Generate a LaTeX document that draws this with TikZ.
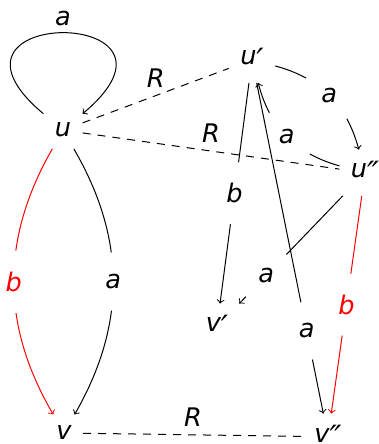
\documentclass[tikz,border=0pt]{standalone}
\usepackage{fontspec}
\setmainfont{DejaVu Sans}
\newfontfamily\lblfont{DejaVu Sans Oblique}
\newcommand\pr[1]{\raisebox{-3.2pt}{\fontsize{16}{16}\selectfont #1}}
\begin{document}
\begin{tikzpicture}[x=0.5pt,y=0.5pt,
  font=\lblfont\fontsize{12.8}{15}\selectfont,
  line width=0.5pt, >=to,
  st/.style={inner sep=5.5pt},
  lb/.style={circle, fill=white, inner sep=6.5pt},
  rl/.style={above, inner sep=4pt},
  dsh/.style={dash pattern=on 4pt off 3.5pt}]
\useasboundingbox (0,0) rectangle (379,444);
\node[st,anchor=base] (u)  at (63,307) {u};
\node[st,anchor=base] (u1) at (252,379) {u\pr{′}};
\node[st,anchor=base] (u2) at (365,266) {u\pr{″}};
\node[st,anchor=base] (v)  at (64,4) {v};
\node[st,anchor=base] (v1) at (217,112) {v\pr{′}};
\node[st,anchor=base] (v2) at (328,2) {v\pr{″}};
% labelled edges
\draw[->] (u) to[out=140,in=40,distance=84pt] node[above]{a} (u);
\draw[->,red] (u) to[bend right=30] node[lb]{b} (v);
\draw[->] (u) to[bend left=30] node[lb]{a} (v);
\draw[->] (u2) to[bend left=30] node[lb]{a} (u1);
\draw[->] (u1) to[bend left=30] node[lb]{a} (u2);
\draw[->] (u1) -- node[lb]{b} (v1);
\draw[->] (u2) -- node[lb,pos=0.74]{a} (v1);
\draw[->] (u1) -- node[lb,pos=0.75]{a} (v2);
\draw[->,red] (u2) -- node[lb]{b} (v2);
% dashed relations
\draw[dsh] (u) -- node[rl]{R} (u1);
\draw[dsh] (u) -- node[rl]{R} (u2);
\draw[dsh] (v) -- node[rl]{R} (v2);
\end{tikzpicture}
\end{document}
